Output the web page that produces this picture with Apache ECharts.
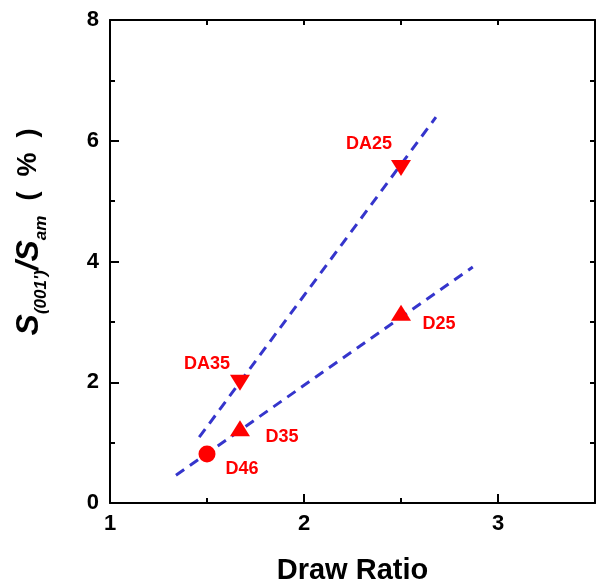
<!DOCTYPE html>
<html>
<head>
<meta charset="utf-8">
<script src="https://cdn.jsdelivr.net/npm/echarts@6/dist/echarts.min.js"></script>
<style>
html,body{margin:0;padding:0;background:#fff;}
#chart{width:596px;height:584px;}
</style>
</head>
<body>
<div id="chart"></div>
<script>
// ---- data ----
const sampleNames = ['D46', 'D35', 'DA35', 'D25', 'DA25'];
const drawRatio = [1.50, 1.67, 1.67, 2.50, 2.50];
const ratioValues = [0.81, 1.24, 1.99, 3.15, 5.55];
const markerKind = ['circle', 'up', 'down', 'up', 'down'];
const lowerFitX = [1.34, 2.87];
const lowerFitY = [0.46, 3.91];
const upperFitX = [1.46, 2.68];
const upperFitY = [1.09, 6.39];
const xTickValues = [1, 2, 3];
const yTickValues = [0, 2, 4, 6, 8];

// ---- layout / style ----
const labelOffsets = {D46: [35, 15], D35: [42, 9], DA35: [-33, -19], D25: [38, 11], DA25: [-32, -24]};
const FONT = 'Liberation Sans, Arial, sans-serif';
const RED = '#FF0000';
const BLUE = '#3535CC';

function pointsOf(kind) {
  const out = [];
  for (let i = 0; i < sampleNames.length; i++) {
    if (markerKind[i] !== kind) continue;
    const off = labelOffsets[sampleNames[i]];
    out.push({
      value: [drawRatio[i], ratioValues[i]],
      name: sampleNames[i],
      label: {show: true, position: 'inside', offset: off, formatter: sampleNames[i],
        color: RED, fontFamily: FONT, fontWeight: 'bold', fontSize: 18}
    });
  }
  return out;
}
function linePts(xs, ys) { return xs.map((x, i) => [x, ys[i]]); }

const axisLineStyle = {show: true, lineStyle: {color: '#000', width: 2}};
const chart = echarts.init(document.getElementById('chart'), null, {renderer: 'canvas'});
chart.setOption({
  animation: false,
  backgroundColor: '#fff',
  grid: {left: 110, right: 1, top: 20, bottom: 81, containLabel: false, outerBoundsMode: 'none'},
  xAxis: [
    {type: 'value', position: 'bottom', min: 1, max: 3.5, interval: 1,
      axisLine: axisLineStyle, splitLine: {show: false},
      axisTick: {show: true, inside: true, length: 9, lineStyle: {color: '#000', width: 2}},
      axisLabel: {color: '#000', fontFamily: FONT, fontWeight: 'bold', fontSize: 22, margin: 10,
        formatter: v => (xTickValues.indexOf(v) >= 0 ? String(v) : '')},
      name: 'Draw Ratio', nameLocation: 'middle', nameGap: 53,
      nameTextStyle: {color: '#000', fontFamily: FONT, fontWeight: 'bold', fontSize: 29}},
    {type: 'value', position: 'bottom', min: 1, max: 3.5, interval: 0.5,
      axisLine: {show: false}, splitLine: {show: false}, axisLabel: {show: false},
      axisTick: {show: true, inside: true, length: 5, lineStyle: {color: '#000', width: 2}}},
    {type: 'value', position: 'top', min: 1, max: 3.5, interval: 0.5,
      axisLine: axisLineStyle, splitLine: {show: false}, axisLabel: {show: false},
      axisTick: {show: true, inside: true, length: 5, lineStyle: {color: '#000', width: 2}}}
  ],
  yAxis: [
    {type: 'value', position: 'left', min: 0, max: 8, interval: 2,
      axisLine: axisLineStyle, splitLine: {show: false},
      axisTick: {show: true, inside: true, length: 9, lineStyle: {color: '#000', width: 2}},
      minorTick: {show: true, splitNumber: 2, length: 5, lineStyle: {color: '#000', width: 2}},
      axisLabel: {color: '#000', fontFamily: FONT, fontWeight: 'bold', fontSize: 22, margin: 11,
        formatter: v => (yTickValues.indexOf(v) >= 0 ? String(v) : '')}},
    {type: 'value', position: 'right', min: 0, max: 8, interval: 1,
      axisLine: axisLineStyle, splitLine: {show: false}, axisLabel: {show: false},
      axisTick: {show: true, inside: true, length: 5, lineStyle: {color: '#000', width: 2}}}
  ],
  graphic: [{
    type: 'text', x: 30, y: 232, rotation: Math.PI / 2,
    style: {
      text: '{b|S}{s|(001\')}{b|/S}{s|am}{p|  (  %  )}',
      align: 'center', verticalAlign: 'middle',
      rich: {
        b: {fontFamily: FONT, fontWeight: 'bold', fontStyle: 'italic', fontSize: 32, fill: '#000', lineHeight: 33, verticalAlign: 'top'},
        s: {fontFamily: FONT, fontWeight: 'bold', fontStyle: 'italic', fontSize: 17, fill: '#000', lineHeight: 18, padding: [19, 0, 0, 0], verticalAlign: 'top'},
        p: {fontFamily: FONT, fontWeight: 'bold', fontSize: 27, fill: '#000', lineHeight: 33, padding: [2, 0, 0, 0], verticalAlign: 'top'}
      }
    }
  }],
  series: [
    {type: 'line', data: linePts(lowerFitX, lowerFitY), symbol: 'none', z: 2,
      lineStyle: {color: BLUE, width: 3, type: [10, 7]}},
    {type: 'line', data: linePts(upperFitX, upperFitY), symbol: 'none', z: 2,
      lineStyle: {color: BLUE, width: 3, type: [10, 7]}},
    {type: 'scatter', data: pointsOf('circle'), symbol: 'circle', symbolSize: 17, z: 3,
      itemStyle: {color: RED, opacity: 1}},
    {type: 'scatter', data: pointsOf('up'), symbol: 'triangle', symbolSize: [20, 16], z: 3,
      itemStyle: {color: RED, opacity: 1}},
    {type: 'scatter', data: pointsOf('down'), symbol: 'triangle', symbolRotate: 180, symbolSize: [20, 16], z: 3,
      itemStyle: {color: RED, opacity: 1}}
  ]
});
</script>
</body>
</html>
